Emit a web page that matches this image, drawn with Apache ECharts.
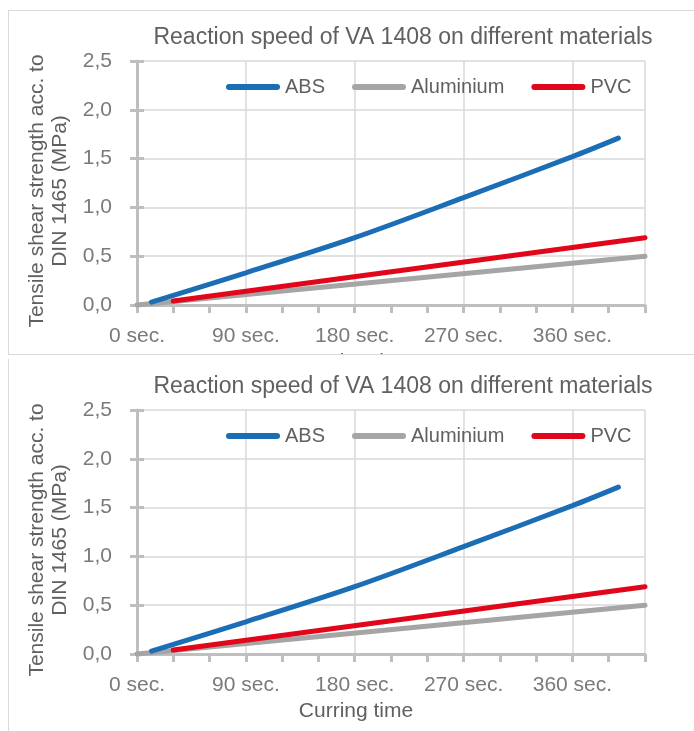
<!DOCTYPE html>
<html>
<head>
<meta charset="utf-8">
<script src="https://cdn.jsdelivr.net/npm/echarts@6/dist/echarts.min.js"></script>
<style>
html,body{margin:0;padding:0;background:#fff;width:694px;height:731px;overflow:hidden;}
#clip1{position:absolute;left:8px;top:10px;width:686px;height:345px;overflow:hidden;border-left:1px solid #dadada;border-top:1px solid #dadada;border-bottom:1px solid #dadada;box-sizing:border-box;}
#c1{position:absolute;left:-1px;top:-1px;width:686px;height:372px;}
#wrap2{position:absolute;left:8px;top:359px;width:686px;height:372px;border-left:1px solid #dadada;box-sizing:border-box;}
#c2{position:absolute;left:-1px;top:0;width:686px;height:372px;}
</style>
</head>
<body>
<div id="clip1"><div id="c1"></div></div>
<div id="wrap2"><div id="c2"></div></div>
<script>
const titleText = 'Reaction speed of VA 1408 on different materials';
const seriesNames = ['ABS', 'Aluminium', 'PVC'];
const absTime  = [12, 90, 180, 270, 360, 398];
const absValue = [0.03, 0.33, 0.69, 1.10, 1.52, 1.71];
const aluTime  = [0, 420];
const aluValue = [0.00, 0.50];
const pvcTime  = [30, 420];
const pvcValue = [0.04, 0.69];
const xTickValues = [0, 90, 180, 270, 360];
const xTickLabels = ['0 sec.', '90 sec.', '180 sec.', '270 sec.', '360 sec.'];
const yTickLabels = ['0,0', '0,5', '1,0', '1,5', '2,0', '2,5'];
const xName = 'Curring time';
const yName = 'Tensile shear strength acc. to\nDIN 1465 (MPa)';

const colors = ['#1b6db5', '#a5a5a5', '#e2061b'];
const FONT = 'Liberation Sans';
const pill = 'path://M3,0 L51,0 A3,3 0 0 1 51,6 L3,6 A3,3 0 0 1 3,0 Z';
function pairs(t, v){ return t.map((x,i)=>[x, v[i]]); }

function makeOption(){
  return {
    animation:false,
    title:{text:titleText,left:390,top:11,textAlign:'center',
      textStyle:{fontFamily:FONT,fontSize:23,fontWeight:'normal',color:'#606060'}},
    legend:{left:213,top:62,itemWidth:54,itemHeight:6,itemGap:27,icon:pill,
      textStyle:{fontFamily:FONT,fontSize:20,color:'#606060'},
      data:seriesNames},
    grid:{left:129,right:49,top:51,bottom:77},
    xAxis:[{
      type:'value',min:0,max:420,interval:30,
      name:xName,nameLocation:'middle',nameGap:43,
      nameTextStyle:{fontFamily:FONT,fontSize:21,color:'#606060',padding:[0,70,0,0]},
      axisLine:{show:true,lineStyle:{color:'#bfbfbf',width:3}},
      axisTick:{show:true,length:8,lineStyle:{color:'#bfbfbf',width:3}},
      axisLabel:{margin:21,fontFamily:FONT,fontSize:21,color:'#7a7a7a',
        formatter:function(v){const i=xTickValues.indexOf(v);return i>=0?xTickLabels[i]:'';}},
      splitLine:{show:false}
    },{
      type:'value',min:0,max:420,interval:90,position:'bottom',
      axisLine:{show:false},axisTick:{show:false},axisLabel:{show:false},
      splitLine:{show:true,lineStyle:{color:'#d9d9d9',width:1.5}}
    }],
    yAxis:[{
      type:'value',min:0,max:2.5,interval:0.5,
      name:yName,nameLocation:'middle',nameGap:50,nameRotate:90,
      nameTextStyle:{fontFamily:FONT,fontSize:21,color:'#606060',lineHeight:23,align:'center',padding:[0,16,0,0]},
      axisLine:{show:true,lineStyle:{color:'#bfbfbf',width:3}},
      axisTick:{show:true,length:7,lineStyle:{color:'#bfbfbf',width:3}},
      axisLabel:{margin:25,fontFamily:FONT,fontSize:21,color:'#7a7a7a',
        formatter:function(v){return yTickLabels[Math.round(v/0.5)];}},
      splitLine:{show:true,lineStyle:{color:'#d9d9d9',width:1.5}}
    },{
      type:'value',min:0,max:2.5,interval:0.5,position:'left',
      axisLine:{show:false},axisLabel:{show:false},splitLine:{show:false},
      axisTick:{show:true,inside:true,length:7,lineStyle:{color:'#bfbfbf',width:3}}
    }],
    series:[
      {name:seriesNames[0],type:'line',data:pairs(absTime,absValue),showSymbol:false,symbol:'none',clip:false,smooth:0.3,
        lineStyle:{color:colors[0],width:5,cap:'round'},itemStyle:{color:colors[0]},z:3},
      {name:seriesNames[1],type:'line',data:pairs(aluTime,aluValue),showSymbol:false,symbol:'none',clip:false,
        lineStyle:{color:colors[1],width:5,cap:'round'},itemStyle:{color:colors[1]},z:2},
      {name:seriesNames[2],type:'line',data:pairs(pvcTime,pvcValue),showSymbol:false,symbol:'none',clip:false,
        lineStyle:{color:colors[2],width:5,cap:'round'},itemStyle:{color:colors[2]},z:4}
    ]
  };
}
echarts.init(document.getElementById('c1')).setOption(makeOption());
echarts.init(document.getElementById('c2')).setOption(makeOption());
</script>
</body>
</html>
